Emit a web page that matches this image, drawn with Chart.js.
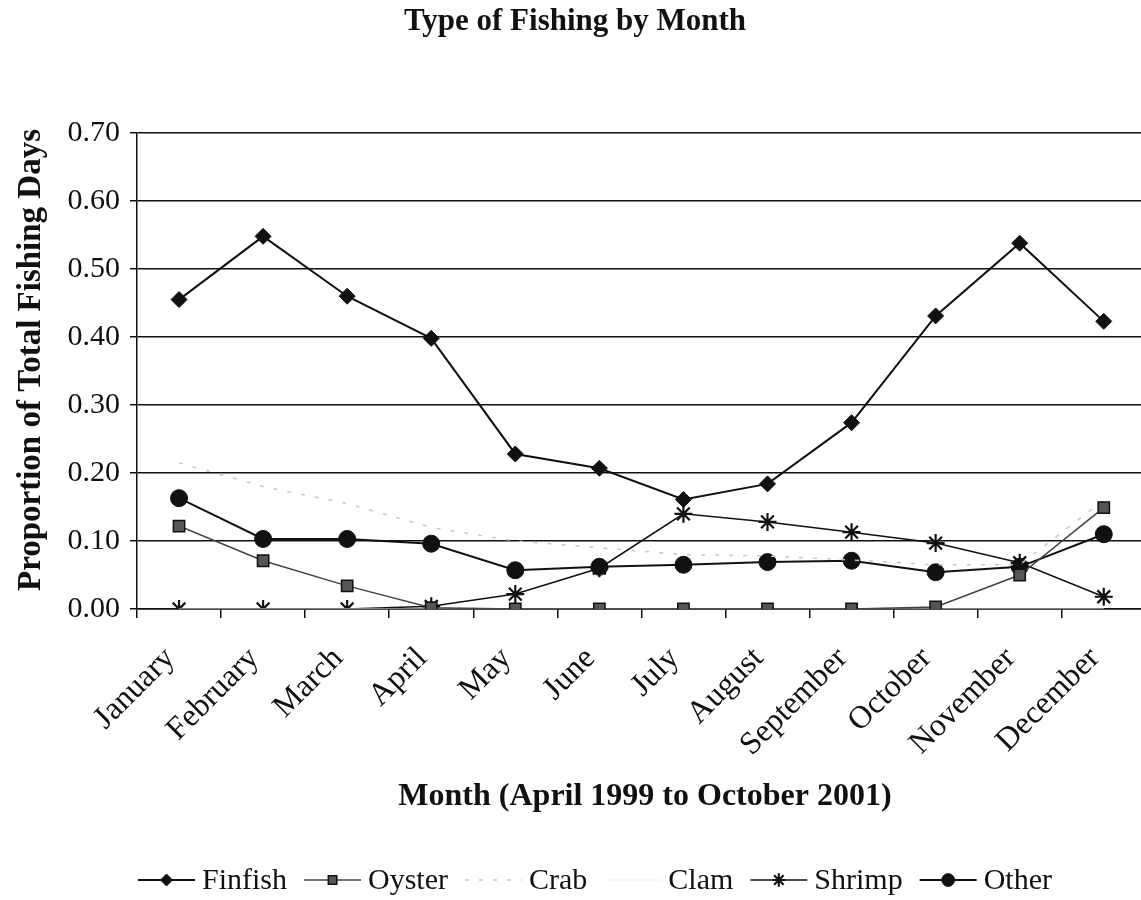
<!DOCTYPE html>
<html>
<head>
<meta charset="utf-8">
<script src="https://cdn.jsdelivr.net/npm/chart.js@4.4.1/dist/chart.umd.min.js"></script>
<style>
  html, body { margin: 0; padding: 0; background: #fff; overflow: hidden; }
  #clip { width: 1141px; height: 900px; overflow: hidden; position: relative; }
  #wrap { width: 1157px; height: 900px; position: relative; }
</style>
</head>
<body>
<div id="clip"><div id="wrap"><canvas id="c"></canvas></div></div>
<script>
const months = ["January","February","March","April","May","June","July","August","September","October","November","December"];
const finfish = [0.455, 0.548, 0.460, 0.398, 0.228, 0.207, 0.161, 0.184, 0.274, 0.431, 0.538, 0.423];
const oyster  = [0.122, 0.071, 0.034, 0.002, 0.000, 0.000, 0.000, 0.000, 0.000, 0.003, 0.050, 0.149];
const crab    = [0.215, 0.180, 0.155, 0.120, 0.100, 0.090, 0.080, 0.078, 0.072, 0.065, 0.065, 0.160];
const clam    = [0.000, 0.000, 0.000, 0.000, 0.000, 0.000, 0.000, 0.000, 0.000, 0.000, 0.000, 0.000];
const shrimp  = [0.000, 0.000, 0.000, 0.004, 0.022, 0.060, 0.140, 0.128, 0.113, 0.097, 0.068, 0.018];
const other   = [0.163, 0.103, 0.103, 0.096, 0.057, 0.062, 0.065, 0.069, 0.071, 0.054, 0.062, 0.110];
const yTickLabels = ["0.00","0.10","0.20","0.30","0.40","0.50","0.60","0.70"];

const chartTitle = "Type of Fishing by Month";
const xTitle = "Month (April 1999 to October 2001)";
const yTitle = "Proportion of Total Fishing Days";

const SERIF = "'Liberation Serif', 'Times New Roman', serif";

const textPlugin = {
  id: 'texts',
  afterDraw(chart) {
    const ctx = chart.ctx;
    ctx.save();
    ctx.fillStyle = '#111';
    ctx.textAlign = 'center';
    ctx.textBaseline = 'alphabetic';
    ctx.font = "bold 31px " + SERIF;
    ctx.fillText(chartTitle, 575, 30);
    ctx.textBaseline = 'middle';
    ctx.font = "bold 32px " + SERIF;
    ctx.fillText(xTitle, 645, 797);
    ctx.save();
    ctx.font = "bold 33px " + SERIF;
    ctx.translate(31, 360);
    ctx.rotate(-Math.PI / 2);
    ctx.fillText(yTitle, 0, 0);
    ctx.restore();

    // legend
    ctx.font = "30px " + SERIF;
    ctx.textAlign = 'left';
    let x = 138;
    const y = 880;
    chart.data.datasets.forEach(ds => {
      const lineW = 57;
      ctx.save();
      ctx.strokeStyle = ds.borderColor;
      ctx.lineWidth = ds.borderWidth;
      ctx.setLineDash(ds.borderDash || []);
      ctx.beginPath();
      ctx.moveTo(x, y);
      ctx.lineTo(x + lineW, y);
      ctx.stroke();
      ctx.setLineDash([]);
      if (ds.pointRadius > 0 && Chart.helpers && Chart.helpers.drawPoint) {
        ctx.fillStyle = ds.pointBackgroundColor;
        ctx.strokeStyle = ds.pointBorderColor;
        ctx.lineWidth = ds.pointBorderWidth;
        Chart.helpers.drawPoint(ctx, {
          pointStyle: ds.pointStyle,
          radius: ds.pointRadius * 0.75,
          rotation: 0,
          borderWidth: ds.pointBorderWidth
        }, x + lineW / 2, y);
      }
      ctx.restore();
      x += lineW + 7;
      ctx.fillStyle = '#111';
      ctx.fillText(ds.label, x, y + 1);
      x += ctx.measureText(ds.label).width + 17;
    });
    ctx.restore();
  }
};

new Chart(document.getElementById('c'), {
  type: 'line',
  data: {
    labels: months,
    datasets: [
      { label: 'Finfish', data: finfish, borderColor: '#111', borderWidth: 2,
        pointStyle: 'rectRot', pointRadius: 8, pointBackgroundColor: '#111', pointBorderColor: '#111', pointBorderWidth: 1 },
      { label: 'Oyster', data: oyster, borderColor: '#444', borderWidth: 1.5,
        pointStyle: 'rect', pointRadius: 8, pointBackgroundColor: '#555', pointBorderColor: '#111', pointBorderWidth: 1.5 },
      { label: 'Crab', data: crab, borderColor: '#c8c8c8', borderWidth: 1.5, borderDash: [4, 10],
        pointRadius: 0, pointBackgroundColor: '#ccc', pointBorderColor: '#ccc', pointBorderWidth: 0 },
      { label: 'Clam', data: clam, borderColor: '#eeeeee', borderWidth: 1,
        pointRadius: 0, pointBackgroundColor: '#eee', pointBorderColor: '#eee', pointBorderWidth: 0 },
      { label: 'Shrimp', data: shrimp, borderColor: '#111', borderWidth: 1.5,
        pointStyle: 'star', pointRadius: 9, pointBackgroundColor: '#111', pointBorderColor: '#111', pointBorderWidth: 2.2 },
      { label: 'Other', data: other, borderColor: '#111', borderWidth: 2,
        pointStyle: 'circle', pointRadius: 8.5, pointBackgroundColor: '#111', pointBorderColor: '#111', pointBorderWidth: 1 }
    ]
  },
  options: {
    responsive: true,
    maintainAspectRatio: false,
    animation: false,
    layout: { padding: { top: 133, left: 0, right: 0, bottom: 0 } },
    plugins: { legend: { display: false }, title: { display: false }, tooltip: { enabled: false } },
    scales: {
      x: {
        offset: true,
        grid: { offset: true, drawOnChartArea: false, drawTicks: true, tickLength: 9, color: '#111', lineWidth: 1.5 },
        border: { color: '#111', width: 1.5 },
        ticks: { font: { family: SERIF, size: 32 }, color: '#111', maxRotation: 45, minRotation: 45, padding: 22, labelOffset: -9, autoSkip: false },
        afterFit(scale) { scale.height = 291; scale.paddingLeft = 0; scale.paddingRight = 0; }
      },
      y: {
        min: 0, max: 0.7,
        grid: { color: '#111', lineWidth: 1.5, drawTicks: true, tickLength: 7 },
        border: { color: '#111', width: 1.5 },
        ticks: {
          stepSize: 0.1, padding: 10, color: '#111',
          font: { family: SERIF, size: 30 },
          callback: (v, i) => yTickLabels[i]
        },
        afterFit(scale) { scale.width = 137; }
      }
    }
  },
  plugins: [textPlugin]
});
</script>
</body>
</html>
